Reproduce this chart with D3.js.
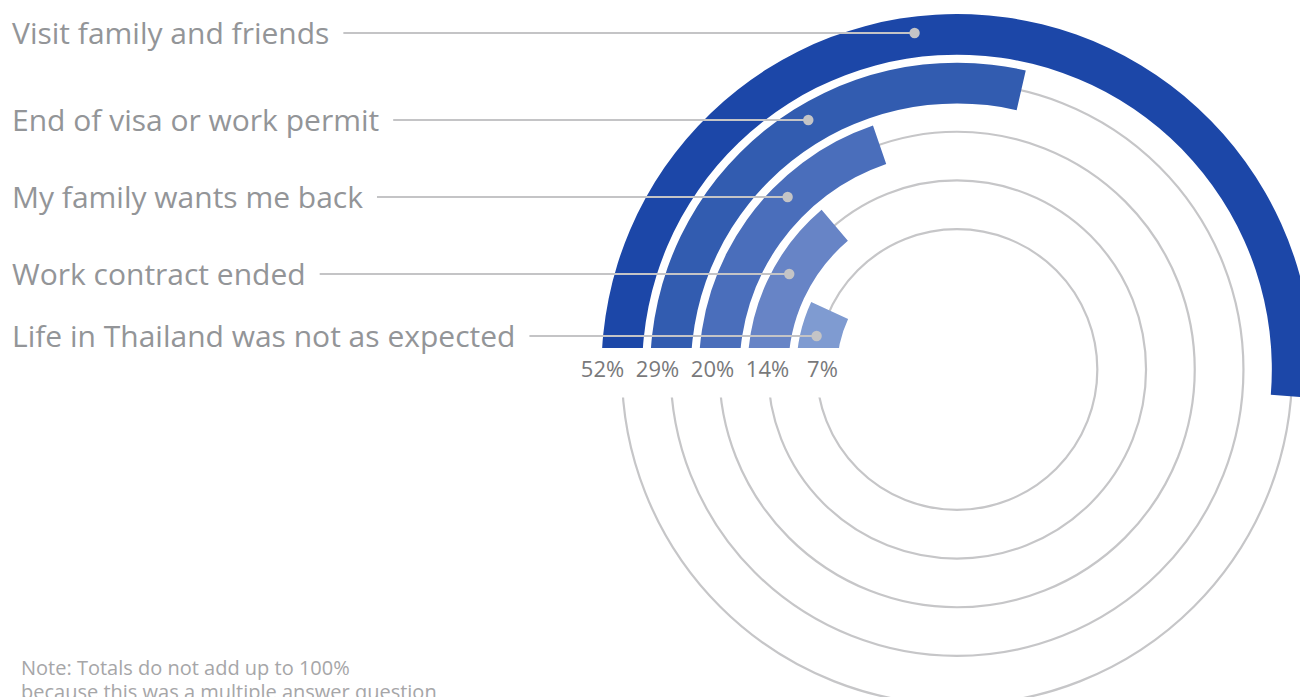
<!DOCTYPE html>
<html>
<head>
<meta charset="utf-8">
<script src="https://cdn.jsdelivr.net/npm/d3@7"></script>
<style>
  html, body { margin: 0; padding: 0; background: #fff; }
  svg { display: block; }
</style>
</head>
<body>
<div id="chart"></div>
<script>
// ---- data ----
const categories = [
  "Visit family and friends",
  "End of visa or work permit",
  "My family wants me back",
  "Work contract ended",
  "Life in Thailand was not as expected"
];
const values = [52, 29, 20, 14, 7];
const valueLabels = ["52%", "29%", "20%", "14%", "7%"];
const noteLines = ["Note: Totals do not add up to 100%", "because this was a multiple answer question"];

// ---- layout ----
const W = 1300, H = 697;
const cx = 957, cy = 369.5;
const barColors = ["#1c47a8", "#325cb0", "#4a6ebb", "#6784c6", "#7f9bd1"];
const labelY = [33, 120, 197, 274, 336];   // annotation rows

const svg = d3.select("#chart").append("svg")
  .attr("width", W).attr("height", H)
  .attr("viewBox", `0 0 ${W} ${H}`);

const defs = svg.append("defs");
const barTop = cy - 21.5, trackTop = cy + 28;

const clipBars = defs.append("clipPath").attr("id", "clipBars");
clipBars.append("rect").attr("x", 0).attr("y", 0).attr("width", W).attr("height", barTop);
clipBars.append("rect").attr("x", cx).attr("y", 0).attr("width", W - cx).attr("height", H);

const clipTracks = defs.append("clipPath").attr("id", "clipTracks");
clipTracks.append("rect").attr("x", 0).attr("y", 0).attr("width", W).attr("height", barTop);
clipTracks.append("rect").attr("x", cx).attr("y", 0).attr("width", W - cx).attr("height", H);
clipTracks.append("rect").attr("x", 0).attr("y", trackTop).attr("width", W).attr("height", H - trackTop);

// scales
const radius = d3.scaleBand().domain(categories).range([355.5, 120]).paddingInner(0.165).paddingOuter(0);
const bw = radius.bandwidth();
const angle = d3.scaleLinear().domain([0, 100]).range([0, 355 * Math.PI / 180]);
const color = d3.scaleOrdinal().domain(categories).range(barColors);

const data = categories.map((c, i) => ({ cat: c, value: values[i], label: valueLabels[i], ly: labelY[i] }));

// tracks
const gTracks = svg.append("g").attr("clip-path", "url(#clipTracks)");
gTracks.selectAll("circle").data(data).join("circle")
  .attr("cx", cx).attr("cy", cy)
  .attr("r", d => radius(d.cat) + bw / 2)
  .attr("fill", "none").attr("stroke", "#c6c6c8").attr("stroke-width", 2.2);

// bars
const arc = d3.arc()
  .innerRadius(d => radius(d.cat))
  .outerRadius(d => radius(d.cat) + bw)
  .startAngle(-Math.PI / 2)
  .endAngle(d => -Math.PI / 2 + angle(d.value));

svg.append("g").attr("clip-path", "url(#clipBars)")
  .append("g")
  .attr("transform", `translate(${cx},${cy})`)
  .selectAll("path").data(data).join("path")
  .attr("d", arc)
  .attr("fill", d => color(d.cat));

// value labels row
const labelX = d3.scalePoint().domain(categories).range([cx - 354.5, cx - 134.5]);
svg.append("g").selectAll("text").data(data).join("text")
  .attr("x", d => labelX(d.cat))
  .attr("y", cy)
  .attr("dy", "0.36em")
  .attr("text-anchor", "middle")
  .attr("font-family", "'Open Sans', 'Noto Sans', sans-serif")
  .attr("font-size", 22)
  .attr("fill", "#79797b")
  .text(d => d.label);

// category labels with leaders
const gLab = svg.append("g");
const labs = gLab.selectAll("g").data(data).join("g");
labs.append("text")
  .attr("x", 12)
  .attr("y", d => d.ly)
  .attr("dy", "0.36em")
  .attr("font-family", "'Open Sans', 'Noto Sans', sans-serif")
  .attr("font-size", 30)
  .attr("fill", "#939598")
  .text(d => d.cat);

labs.each(function(d) {
  const g = d3.select(this);
  const tw = g.select("text").node().getComputedTextLength();
  const r = radius(d.cat) + bw / 2 + 4;
  const dy = cy - d.ly;
  const dotX = cx - Math.sqrt(Math.max(0, r * r - dy * dy));
  g.append("line")
    .attr("x1", 12 + tw + 14).attr("x2", dotX)
    .attr("y1", d.ly).attr("y2", d.ly)
    .attr("stroke", "#c4c4c6").attr("stroke-width", 2.2);
  g.append("circle")
    .attr("cx", dotX).attr("cy", d.ly).attr("r", 5.2)
    .attr("fill", "#c4c4c6");
});

// note
svg.append("g").selectAll("text").data(noteLines).join("text")
  .attr("x", 21)
  .attr("y", (d, i) => 675 + i * 24)
  .attr("font-family", "'Open Sans', 'Noto Sans', sans-serif")
  .attr("font-size", 20)
  .attr("fill", "#a6a6a8")
  .text(d => d);
</script>
</body>
</html>
